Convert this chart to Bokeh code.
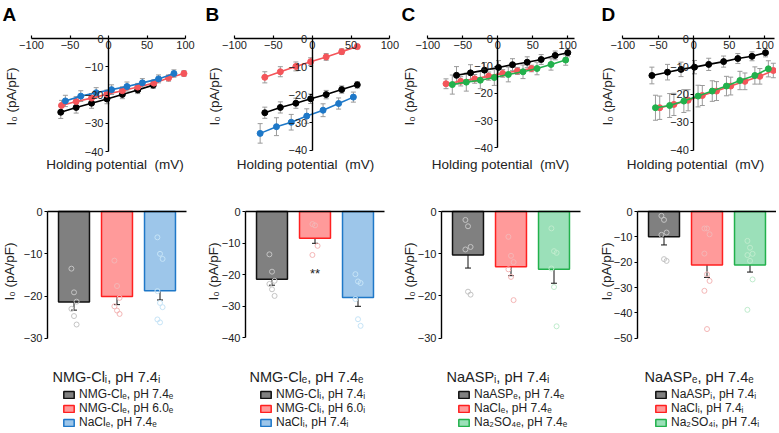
import math
from bokeh.plotting import figure
from bokeh.models import (ColumnDataSource, Whisker, TeeHead, FixedTicker,
                          Range1d, Legend, LegendItem, Label)
from bokeh.layouts import row, column
from bokeh.embed import file_html
from bokeh.resources import INLINE

FONT = "Liberation Sans"

# ---------------- I-V curves (holding potential mV, current pA/pF, SEM) ----------------
A_black_v = [-62, -42, -22, -2, 18, 38, 58]
A_black_i = [-26.1, -24.4, -22.9, -21.4, -19.8, -18.2, -16.5]
A_black_e = [2.2, 2.0, 1.8, 1.7, 1.5, 1.3, 1.2]
A_red_v = [-61, -42, -22, -2, 18, 38, 59, 78, 98]
A_red_i = [-23.7, -22.3, -21.1, -19.7, -18.5, -17.2, -15.8, -14.0, -12.4]
A_red_e = [1.8, 1.7, 1.6, 1.5, 1.4, 1.3, 1.2, 1.1, 1.0]
A_blue_v = [-56, -36, -16, 4, 24, 44, 65, 85]
A_blue_i = [-22.1, -20.4, -19.2, -18.1, -17.0, -15.7, -14.3, -12.4]
A_blue_e = [2.0, 1.9, 1.8, 1.7, 1.6, 1.5, 1.4, 1.3]

B_black_v = [-61, -41, -21, -2, 18, 38, 58]
B_black_i = [-26.5, -24.6, -23.1, -21.5, -20.0, -18.2, -16.5]
B_black_e = [2.0, 2.0, 1.8, 1.7, 1.5, 1.3, 1.2]
B_red_v = [-61, -41, -21, -2, 18, 38, 58]
B_red_i = [-13.8, -11.8, -9.9, -8.2, -6.5, -4.6, -2.8]
B_red_e = [2.0, 1.8, 1.6, 1.4, 1.2, 1.0, 0.8]
B_blue_v = [-67, -46, -27, -7, 14, 34, 53]
B_blue_i = [-33.9, -31.5, -29.9, -27.7, -25.6, -23.2, -20.9]
B_blue_e = [3.5, 3.2, 2.8, 2.6, 2.3, 2.0, 1.8]

C_black_v = [-59, -39, -19, 1, 21, 42, 62, 82, 100]
C_black_i = [-13.4, -12.5, -11.5, -10.5, -9.5, -8.6, -7.6, -6.1, -5.1]
C_black_e = [3.2, 3.0, 2.8, 2.5, 2.2, 2.0, 1.8, 1.6, 1.5]
C_red_v = [-74, -53, -33, -13, 7, 28, 48]
C_red_i = [-16.5, -15.6, -14.7, -13.7, -12.7, -11.8, -10.9]
C_red_e = [1.8, 1.7, 1.6, 1.5, 1.4, 1.3, 1.2]
C_green_v = [-65, -45, -25, -5, 15, 36, 56, 76, 97]
C_green_i = [-16.8, -15.9, -15.2, -14.2, -13.1, -12.1, -10.9, -9.4, -7.8]
C_green_e = [3.5, 3.3, 3.1, 2.9, 2.7, 2.5, 2.3, 2.1, 1.9]

D_black_v = [-59, -37, -18, 1, 21, 42, 62, 82, 101]
D_black_i = [-13.2, -12.0, -11.0, -10.2, -9.2, -8.2, -7.1, -6.3, -5.0]
D_black_e = [3.0, 2.8, 2.6, 2.4, 2.2, 2.0, 1.8, 1.6, 1.5]
D_red_v = [-48, -28, -8, 12, 32, 52, 72, 93, 112]
D_red_i = [-24.8, -23.6, -22.1, -20.4, -18.8, -17.0, -15.3, -13.5, -11.4]
D_red_e = [4.2, 4.0, 3.8, 3.6, 3.4, 3.2, 3.0, 2.8, 2.6]
D_green_v = [-54, -34, -14, 6, 26, 46, 65, 86, 105]
D_green_i = [-24.8, -24.0, -22.4, -20.6, -18.8, -17.0, -15.0, -13.2, -10.8]
D_green_e = [4.5, 4.3, 4.1, 3.9, 3.7, 3.5, 3.3, 3.1, 2.9]

iv_x_ticks = [-100, -50, 0, 50, 100]
iv_y_ticks = [0, -10, -20, -30, -40]

# ---------------- bar charts (mean, SEM, individual cells) ----------------
A_means = [-21.4, -20.1, -18.7]
A_sems = [1.9, 1.9, 2.2]
A_pts = [[-13.5, -19.1, -21.3, -23.0, -24.7, -26.7],
         [-11.6, -17.6, -20.4, -22.4, -23.4, -24.2],
         [-6.1, -10.0, -11.2, -18.8, -21.6, -22.6, -25.5, -26.2]]
B_means = [-21.5, -8.5, -27.3]
B_sems = [1.9, 1.6, 2.8]
B_pts = [[-13.6, -19.1, -22.0, -23.0, -24.7, -26.8],
         [-4.0, -4.4, -10.9, -13.8],
         [-19.9, -22.2, -22.7, -27.8, -34.2, -36.3]]
C_means = [-10.3, -13.1, -13.7]
C_sems = [3.1, 2.1, 3.3]
C_pts = [[-2.0, -3.5, -8.4, -9.0, -19.0, -19.7],
         [-6.0, -10.5, -12.0, -13.7, -15.5, -21.0],
         [-4.0, -9.4, -9.8, -13.5, -17.9, -27.2]]
D_means = [-10.0, -21.1, -21.1]
D_sems = [3.2, 4.9, 2.8]
D_pts = [[-1.7, -3.3, -8.3, -9.2, -18.8, -19.5],
         [-6.7, -6.7, -9.0, -16.6, -24.8, -27.4, -31.3, -46.4],
         [-11.6, -14.3, -16.7, -17.2, -19.5, -26.8, -38.8]]

A_ticks = [0, -10, -20, -30]
B_ticks = [0, -10, -20, -30, -40]
C_ticks = [0, -10, -20, -30]
D_ticks = [0, -10, -20, -30, -40, -50]

A_title = "NMG-Clᵢ, pH 7.4ᵢ"
A_labels = ["NMG-Clₑ, pH 7.4ₑ", "NMG-Clₑ, pH 6.0ₑ", "NaClₑ, pH 7.4ₑ"]
B_title = "NMG-Clₑ, pH 7.4ₑ"
B_labels = ["NMG-Clᵢ, pH 7.4ᵢ", "NMG-Clᵢ, pH 6.0ᵢ", "NaClᵢ, pH 7.4ᵢ"]
C_title = "NaASPᵢ, pH 7.4ᵢ"
C_labels = ["NaASPₑ, pH 7.4ₑ", "NaClₑ, pH 7.4ₑ", "Na₂SO₄ₑ, pH 7.4ₑ"]
D_title = "NaASPₑ, pH 7.4ₑ"
D_labels = ["NaASPᵢ, pH 7.4ᵢ", "NaClᵢ, pH 7.4ᵢ", "Na₂SO₄ᵢ, pH 7.4ᵢ"]

YLAB = "I₀ (pA/pF)"
XLAB = "Holding potential\u00a0 (mV)"

# ---------------- styles / layout (page pixels) ----------------
LINE = {"black": "#000000", "red": "#f4555a", "blue": "#1e78c8", "green": "#22b14c"}
BAR_FILL = {"black": "#808080", "red": "#ff9a9a", "blue": "#9dc6ea", "green": "#9be0b9"}
BAR_LINE = {"black": "#111111", "red": "#ff2020", "blue": "#1f78c8", "green": "#22b14c"}
PT = {"black": "#c4c4c4", "red": "#f4b6b6", "blue": "#c6e4f7", "green": "#bfeccd"}
TXT = "#222222"

COL_X = [1, 206, 402, 598]
COL_W = [205, 196, 196, 179]
TOP_Y0, TOP_H = 1, 177
BOT_Y0, BOT_H = 178, 254
LETTER_X = [3, 206, 402, 602]
IV_YLAB_X = [11.5, 215, 410, 608]
IV_XLAB_X = [115.5, 306, 501, 696]
BAR_AXIS_X = [48, 246, 442, 638]
BAR_YLAB_X = [10, 214, 410, 607]
LEG_TITLE_DX = [5, 4, 5, 7]
LEG_GLYPH_DX = [15, 14, 16, 17]


def style_tick_axis(ax):
    ax.major_label_text_font = FONT
    ax.major_label_text_font_size = "11px"
    ax.major_label_text_color = TXT
    ax.axis_line_width = 1.4
    ax.major_tick_line_width = 1.2
    ax.minor_tick_line_color = None
    ax.major_label_standoff = 2
    ax.axis_label = None


class Mapper:
    """page pixel -> data, for a figure whose frame fills the whole figure"""
    def __init__(self, zx, zy, sx, sy):
        self.zx, self.zy, self.sx, self.sy = zx, zy, sx, sy

    def x(self, px):
        return (px - self.zx) / self.sx

    def y(self, py):
        return (self.zy - py) / self.sy


def new_fig(k, y0, h, m):
    x0, w = COL_X[k], COL_W[k]
    p = figure(width=w, height=h,
               x_range=Range1d(m.x(x0), m.x(x0 + w)), y_range=Range1d(m.y(y0 + h), m.y(y0)),
               output_backend="svg", toolbar_location=None,
               min_border_left=0, min_border_right=0, min_border_top=0, min_border_bottom=0)
    p.outline_line_color = None
    p.grid.visible = False
    return p


def iv_panel(k, letter, series, zero, scale, xbounds):
    m = Mapper(zero[0], zero[1], scale[0], scale[1])
    p = new_fig(k, TOP_Y0, TOP_H, m)
    xa = p.xaxis[0]
    xa.fixed_location = 0
    xa.ticker = FixedTicker(ticks=iv_x_ticks)
    xa.bounds = xbounds
    xa.major_tick_in = 3
    xa.major_tick_out = 0
    style_tick_axis(xa)
    ya = p.yaxis[0]
    ya.fixed_location = 0
    ya.ticker = FixedTicker(ticks=iv_y_ticks)
    ya.bounds = (-40, 0)
    ya.major_tick_in = 0
    ya.major_tick_out = 3
    style_tick_axis(ya)
    p.add_layout(Label(x=m.x(LETTER_X[k]), y=m.y(4), text=letter,
                       text_baseline="top", text_font=FONT, text_font_size="19px",
                       text_font_style="bold", text_color="#000000"))
    p.add_layout(Label(x=m.x(IV_YLAB_X[k]), y=m.y(97), text=YLAB, angle=math.pi / 2,
                       text_align="center", text_baseline="middle", text_font=FONT,
                       text_font_size="13.5px", text_color=TXT))
    p.add_layout(Label(x=m.x(IV_XLAB_X[k]), y=m.y(165), text=XLAB, text_align="center",
                       text_baseline="middle", text_font=FONT, text_font_size="13.5px",
                       text_color=TXT))
    for color, v, i, e in series:
        src = ColumnDataSource(dict(x=v, y=i,
                                    lo=[a - b for a, b in zip(i, e)],
                                    hi=[a + b for a, b in zip(i, e)]))
        p.add_layout(Whisker(source=src, base="x", lower="lo", upper="hi",
                             line_color="#9a9a9a", line_width=1,
                             lower_head=TeeHead(size=5, line_color="#9a9a9a", line_width=1),
                             upper_head=TeeHead(size=5, line_color="#9a9a9a", line_width=1),
                             level="underlay"))
        p.line("x", "y", source=src, line_color=LINE[color], line_width=1.6)
        p.scatter("x", "y", source=src, size=6, fill_color=LINE[color], line_color=LINE[color])
    return p


def bar_panel(k, colors, means, sems, pts, ticks, pxu, title, labels, sig=None):
    axis_px = BAR_AXIS_X[k]
    m = Mapper(axis_px + 26.5, 212, 43.0, pxu)
    p = new_fig(k, BOT_Y0, BOT_H, m)
    xa = p.xaxis[0]
    xa.fixed_location = 0
    xa.ticker = FixedTicker(ticks=[])
    xa.bounds = (m.x(axis_px), m.x(axis_px + 139))
    xa.major_tick_out = 0
    xa.major_tick_in = 0
    xa.axis_line_width = 1.4
    xa.axis_label = None
    ya = p.yaxis[0]
    ya.fixed_location = m.x(axis_px)
    ya.ticker = FixedTicker(ticks=ticks)
    ya.bounds = (min(ticks), 0)
    ya.major_tick_in = 0
    ya.major_tick_out = 3
    style_tick_axis(ya)

    xs = list(range(len(means)))
    src = ColumnDataSource(dict(x=xs, top=means,
                                fill=[BAR_FILL[c] for c in colors],
                                line=[BAR_LINE[c] for c in colors],
                                lo=[a - b for a, b in zip(means, sems)],
                                hi=[a + b for a, b in zip(means, sems)]))
    bars = p.vbar(x="x", top="top", bottom=0, width=0.72, source=src,
                  fill_color="fill", line_color="line", line_width=1.5)
    for j, (c, vals) in enumerate(zip(colors, pts)):
        jx = [j + ((n % 3) - 1) * 0.06 for n in range(len(vals))]
        p.scatter(jx, vals, size=5, fill_color=None, line_color=PT[c], line_width=1)
    p.add_layout(Whisker(source=src, base="x", lower="lo", upper="hi",
                         line_color="#111111", line_width=1,
                         lower_head=TeeHead(size=6, line_color="#111111", line_width=1),
                         upper_head=TeeHead(size=6, line_color="#111111", line_width=1)))
    if sig is not None:
        p.add_layout(Label(x=sig[0], y=sig[1], text=sig[2], text_align="center",
                           text_baseline="middle", text_font=FONT, text_font_size="13px",
                           text_color=TXT))
    p.add_layout(Label(x=m.x(BAR_YLAB_X[k]), y=m.y(272), text=YLAB, angle=math.pi / 2,
                       text_align="center", text_baseline="middle", text_font=FONT,
                       text_font_size="13.5px", text_color=TXT))
    p.add_layout(Label(x=m.x(axis_px + LEG_TITLE_DX[k]), y=m.y(377), text=title,
                       text_baseline="middle", text_font=FONT, text_font_size="14.5px",
                       text_color=TXT))
    items = [LegendItem(label=lab, renderers=[bars], index=n) for n, lab in enumerate(labels)]
    leg = Legend(items=items, location=(axis_px + LEG_GLYPH_DX[k] - COL_X[k], 2),
                 padding=0, margin=0, spacing=-2,
                 glyph_width=13, glyph_height=9, label_height=9, label_standoff=4,
                 label_text_font=FONT, label_text_font_size="12px", label_text_color=TXT,
                 border_line_color=None, background_fill_alpha=0)
    p.add_layout(leg)
    return p


pA = iv_panel(0, "A", [("black", A_black_v, A_black_i, A_black_e),
                       ("red", A_red_v, A_red_i, A_red_e),
                       ("blue", A_blue_v, A_blue_i, A_blue_e)],
              (109, 39), (0.77, 2.825), (-100, 100))
pB = iv_panel(1, "B", [("black", B_black_v, B_black_i, B_black_e),
                       ("red", B_red_v, B_red_i, B_red_e),
                       ("blue", B_blue_v, B_blue_i, B_blue_e)],
              (312.7, 39.3), (0.777, 2.79), (-100, 100))
pC = iv_panel(2, "C", [("black", C_black_v, C_black_i, C_black_e),
                       ("red", C_red_v, C_red_i, C_red_e),
                       ("green", C_green_v, C_green_i, C_green_e)],
              (498.3, 39.3), (0.70, 2.725), (-100, 110))
pD = iv_panel(3, "D", [("black", D_black_v, D_black_i, D_black_e),
                       ("red", D_red_v, D_red_i, D_red_e),
                       ("green", D_green_v, D_green_i, D_green_e)],
              (694.3, 39.3), (0.71, 2.78), (-100, 113))

bA = bar_panel(0, ["black", "red", "blue"], A_means, A_sems, A_pts, A_ticks, 4.233, A_title, A_labels)
bB = bar_panel(1, ["black", "red", "blue"], B_means, B_sems, B_pts, B_ticks, 3.15, B_title, B_labels,
               sig=(1, -19.6, "**"))
bC = bar_panel(2, ["black", "red", "green"], C_means, C_sems, C_pts, C_ticks, 4.22, C_title, C_labels)
bD = bar_panel(3, ["black", "red", "green"], D_means, D_sems, D_pts, D_ticks, 2.534, D_title, D_labels)

layout = row(column(pA, bA), column(pB, bB), column(pC, bC), column(pD, bD))

with open("out.html", "w") as f:
    f.write(file_html(layout, INLINE))
